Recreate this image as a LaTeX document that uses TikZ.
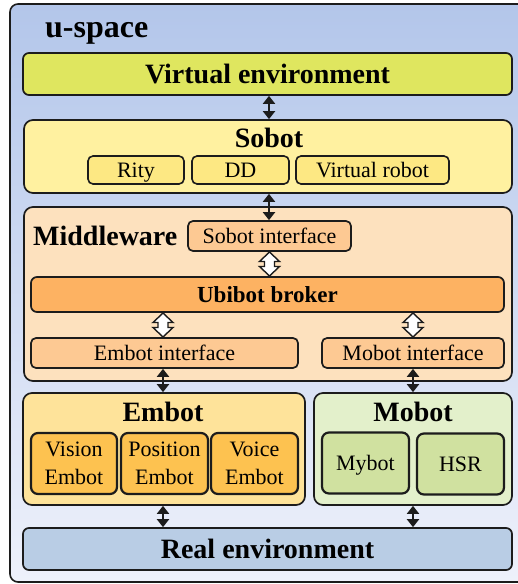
\documentclass[tikz,border=0pt]{standalone}
\usepackage{fontspec}
\setmainfont{Liberation Serif}
\usetikzlibrary{arrows.meta,calc}
\definecolor{lc}{HTML}{1C1C1C}
\definecolor{outtop}{HTML}{B3C6EA}
\definecolor{outbot}{HTML}{EEF1FB}
\definecolor{venvc}{HTML}{DFE65F}
\definecolor{sobotc}{HTML}{FFF1A0}
\definecolor{sobinc}{HTML}{FDE883}
\definecolor{mwc}{HTML}{FDE1BE}
\definecolor{intc}{HTML}{FDC993}
\definecolor{ubic}{HTML}{FDB262}
\definecolor{embc}{HTML}{FEE39A}
\definecolor{embinc}{HTML}{FDC250}
\definecolor{mobc}{HTML}{E3F0CB}
\definecolor{mobinc}{HTML}{D0E1A0}
\definecolor{renvc}{HTML}{B9CDE5}
\begin{document}
\begin{tikzpicture}[x=1pt,y=-1pt,
  box/.style={draw=lc, line width=1.7pt, rounded corners=6pt, inner sep=0pt,
    text height=14.6pt, text depth=0pt},
  bigbox/.style={box, rounded corners=9pt},
  inbox/.style={box, line width=2.2pt, rounded corners=7pt, align=center,
    font=\fontsize{22}{27.6}\selectfont, text height=, text depth=},
  ttl/.style={font=\fontsize{28}{32}\selectfont\bfseries, inner sep=0pt,
    text height=18.5pt, text depth=0pt},
  reg/.style={font=\fontsize{22}{26}\selectfont, text height=14.6pt, text depth=0pt},
  dbl/.style={line width=2pt, draw=lc,
    {Triangle[width=12pt,length=8pt]}-{Triangle[width=12pt,length=8pt]}},
  harrow/.pic={\draw[draw=lc, line width=1.4pt, fill=white, line join=miter]
    (0,-12) -- (10,-2.5) -- (5,-2.5) -- (5,2.5) -- (10,2.5) -- (0,12)
    -- (-10,2.5) -- (-5,2.5) -- (-5,-2.5) -- (-10,-2.5) -- cycle;}
]
\useasboundingbox (0,0) rectangle (518,584);
% outer container
\node[draw=lc, line width=1.6pt, rounded corners=8pt, top color=outtop, bottom color=outbot,
  minimum width=540pt, minimum height=578pt] (us) at (280,293) {};
\node[font=\fontsize{32}{36}\selectfont\bfseries, anchor=base west, inner sep=0pt] (ustxt) at (45,37) {u-space};
% virtual environment
\node[box, fill=venvc, minimum width=489pt, minimum height=42pt, ttl] (venv) at (267.5,74) {Virtual environment};
% sobot
\node[bigbox, fill=sobotc, minimum width=488pt, minimum height=73pt] (sobot) at (268,156.5) {};
\node[ttl] (sobott) at (269,138) {Sobot};
\node[box, fill=sobinc, line width=1.6pt, rounded corners=5pt, minimum width=96pt, minimum height=28pt, reg] (rity) at (136,170) {Rity};
\node[box, fill=sobinc, line width=1.6pt, rounded corners=5pt, minimum width=97pt, minimum height=28pt, reg] (dd) at (240.5,170) {DD};
\node[box, fill=sobinc, line width=1.6pt, rounded corners=5pt, minimum width=153pt, minimum height=28pt, reg] (vrob) at (372.5,170) {Virtual robot};
% middleware
\node[bigbox, fill=mwc, minimum width=488pt, minimum height=174pt] (mw) at (268,294) {};
\node[ttl, anchor=west] (mwt) at (33,236.5) {Middleware};
\node[box, fill=intc, rounded corners=5pt, minimum width=163pt, minimum height=30pt, reg] (sint) at (269.5,236) {Sobot interface};
\node[box, fill=ubic, rounded corners=6pt, minimum width=473pt, minimum height=35pt,
  font=\fontsize{23}{26}\selectfont\bfseries, text height=15.2pt] (ubi) at (267.5,294.5) {Ubibot broker};
\node[box, fill=intc, rounded corners=5pt, minimum width=267pt, minimum height=30pt, reg] (eint) at (164.5,353) {Embot interface};
\node[box, fill=intc, rounded corners=5pt, minimum width=182pt, minimum height=30pt, reg] (mint) at (413,353) {Mobot interface};
% embot
\node[bigbox, fill=embc, minimum width=282pt, minimum height=112pt] (embot) at (164,449) {};
\node[ttl] (embott) at (163,412) {Embot};
\node[inbox, fill=embinc, minimum width=86pt, minimum height=61pt] (vis) at (74,463.5) {Vision\\Embot};
\node[inbox, fill=embinc, minimum width=87pt, minimum height=61pt] (pos) at (164.5,463.5) {Position\\Embot};
\node[inbox, fill=embinc, minimum width=87pt, minimum height=61pt] (voi) at (254.5,463.5) {Voice\\Embot};
% mobot
\node[bigbox, fill=mobc, minimum width=198pt, minimum height=112pt] (mobot) at (413,449) {};
\node[ttl] (mobott) at (413,412) {Mobot};
\node[inbox, fill=mobinc, minimum width=87pt, minimum height=61pt, text height=14.6pt, text depth=0pt] (myb) at (365.5,463) {Mybot};
\node[inbox, fill=mobinc, minimum width=87pt, minimum height=61pt, text height=14.6pt, text depth=0pt] (hsr) at (460.5,464) {HSR};
% real environment
\node[box, fill=renvc, minimum width=489pt, minimum height=42pt, ttl] (renv) at (267.5,549) {Real environment};
% connectors
\draw[dbl] (venv.south -| sobott) -- (sobott |- sobot.north);
\draw[dbl] (sobot.south -| sobott) -- (sobott |- sint.north);
\coordinate (h1) at ($(sint.south)!0.5!(ubi.north -| sint.south)$);
\pic at (h1) {harrow};
\coordinate (h2) at ($(ubi.south -| embott)!0.5!(embott |- eint.north)$);
\pic at (h2) {harrow};
\coordinate (h3) at ($(ubi.south -| mint.north)!0.5!(mint.north)$);
\pic at (h3) {harrow};
\draw[dbl] (eint.south -| embott) -- (embott |- embot.north);
\draw[dbl] (mint.south) -- (mobot.north);
\draw[dbl] (embot.south -| embott) -- (embott |- renv.north);
\draw[dbl] (mobot.south) -- (mobot.south |- renv.north);
\end{tikzpicture}
\end{document}
